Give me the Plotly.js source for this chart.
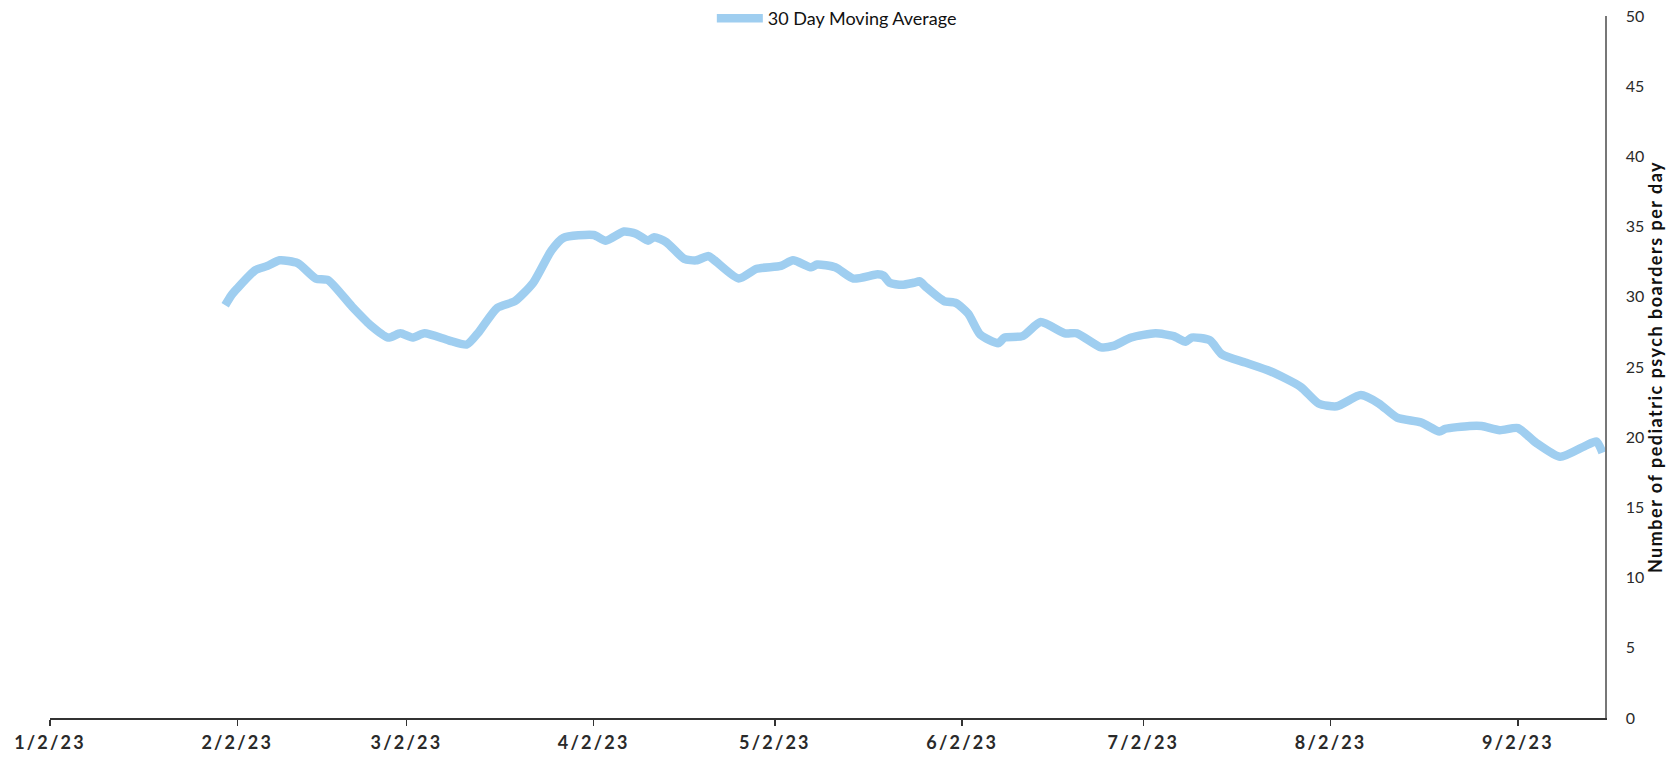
<!DOCTYPE html>
<html>
<head>
<meta charset="utf-8">
<script src="https://cdn.plot.ly/plotly-3.0.1.min.js"></script>
<style>
html,body{margin:0;padding:0;background:#fff;}
#chart{width:1674px;height:758px;}
#chart .xtick text{letter-spacing:2.2px;}
#chart .ytitle{letter-spacing:1.5px;}
</style>
</head>
<body>
<div id="chart"></div>
<script>
// 30 day moving average of pediatric psych boarders per day
var dates = [
  '2023-01-31','2023-02-01','2023-02-02','2023-02-05','2023-02-07','2023-02-09','2023-02-12','2023-02-15','2023-02-17','2023-02-21',
  '2023-02-24','2023-02-27','2023-03-01','2023-03-03','2023-03-05','2023-03-09','2023-03-12','2023-03-14','2023-03-17','2023-03-20',
  '2023-03-23','2023-03-26','2023-03-28','2023-04-02','2023-04-04','2023-04-07','2023-04-09','2023-04-11','2023-04-12','2023-04-14',
  '2023-04-17','2023-04-19','2023-04-21','2023-04-22','2023-04-26','2023-04-29','2023-05-03','2023-05-05','2023-05-08','2023-05-09',
  '2023-05-12','2023-05-15','2023-05-19','2023-05-20','2023-05-21','2023-05-23','2023-05-25','2023-05-26','2023-05-27','2023-05-30',
  '2023-06-01','2023-06-03','2023-06-05','2023-06-08','2023-06-09','2023-06-12','2023-06-15','2023-06-19','2023-06-21','2023-06-25',
  '2023-06-27','2023-06-30','2023-07-04','2023-07-07','2023-07-09','2023-07-10','2023-07-13','2023-07-15','2023-07-19','2023-07-23',
  '2023-07-28','2023-07-31','2023-08-03','2023-08-07','2023-08-10','2023-08-13','2023-08-17','2023-08-20','2023-08-21','2023-08-25',
  '2023-08-27','2023-08-30','2023-09-02','2023-09-05','2023-09-09','2023-09-13','2023-09-15','2023-09-16'
];
var movingAvg = [
  29.4, 30.1, 30.6, 31.9, 32.2, 32.6, 32.4, 31.3, 31.2, 29.3,
  28.0, 27.1, 27.4, 27.1, 27.4, 26.9, 26.6, 27.5, 29.2, 29.7,
  31.0, 33.3, 34.2, 34.4, 34.0, 34.65, 34.5, 34.0, 34.25, 33.9,
  32.7, 32.6, 32.9, 32.6, 31.3, 32.0, 32.2, 32.6, 32.1, 32.3,
  32.1, 31.3, 31.6, 31.5, 31.0, 30.85, 31.0, 31.1, 30.7, 29.7,
  29.55, 28.8, 27.3, 26.7, 27.1, 27.2, 28.2, 27.4, 27.4, 26.4,
  26.5, 27.1, 27.4, 27.2, 26.8, 27.1, 26.9, 25.9, 25.3, 24.7,
  23.6, 22.4, 22.2, 23.0, 22.4, 21.4, 21.05, 20.4, 20.6, 20.8,
  20.8, 20.5, 20.65, 19.6, 18.6, 19.35, 19.7, 18.9
];
var tickDates = ['2023-01-02','2023-02-02','2023-03-02','2023-04-02','2023-05-02','2023-06-02','2023-07-02','2023-08-02','2023-09-02'];
var tickLabels = ['1/2/23','2/2/23','3/2/23','4/2/23','5/2/23','6/2/23','7/2/23','8/2/23','9/2/23'];
var seriesName = '30 Day Moving Average';
var yTitle = 'Number of pediatric psych boarders per day';

var trace = {
  x: dates, y: movingAvg, type: 'scatter', mode: 'lines', name: seriesName,
  line: {color: '#9FCEF0', width: 8.5, shape: 'spline', smoothing: 0.6},
  showlegend: true, hoverinfo: 'x+y'
};

var layout = {
  width: 1674, height: 758,
  margin: {l: 50, r: 69, t: 0, b: 40},
  paper_bgcolor: '#fff', plot_bgcolor: '#fff',
  font: {family: 'Lato, "Open Sans", sans-serif', size: 15, color: '#222'},
  showlegend: true,
  legend: {
    orientation: 'h', xref: 'paper', yref: 'paper',
    x: 0.506, xanchor: 'center', y: 1.0, yanchor: 'top',
    font: {family: 'Lato, sans-serif', size: 18, color: '#111'},
    itemwidth: 46, bgcolor: 'rgba(0,0,0,0)', borderwidth: 0
  },
  xaxis: {
    type: 'date',
    range: ['2023-01-02', '2023-09-16 10:00'],
    tickvals: tickDates, ticktext: tickLabels,
    ticks: 'outside', ticklen: 6, tickwidth: 1.5, tickcolor: '#333',
    showline: true, linecolor: '#333', linewidth: 2,
    showgrid: false, zeroline: false,
    ticklabelstandoff: 1,
    tickfont: {family: 'Lato, sans-serif', size: 18, color: '#2a2a2a', weight: 'bold'}
  },
  yaxis: {
    side: 'right', range: [0, 50], dtick: 5, tick0: 0,
    domain: [0, 0.9777],
    showline: true, linecolor: '#777', linewidth: 1.5,
    showgrid: false, zeroline: false, ticks: '',
    ticklabelstandoff: 16,
    tickfont: {family: 'Lato, sans-serif', size: 16, color: '#2a2a2a'},
    title: {text: yTitle, font: {family: 'Lato, sans-serif', size: 18, color: '#111', weight: 'bold'}, standoff: 6}
  }
};

Plotly.newPlot('chart', [trace], layout, {displayModeBar: false, staticPlot: true});
</script>
</body>
</html>
